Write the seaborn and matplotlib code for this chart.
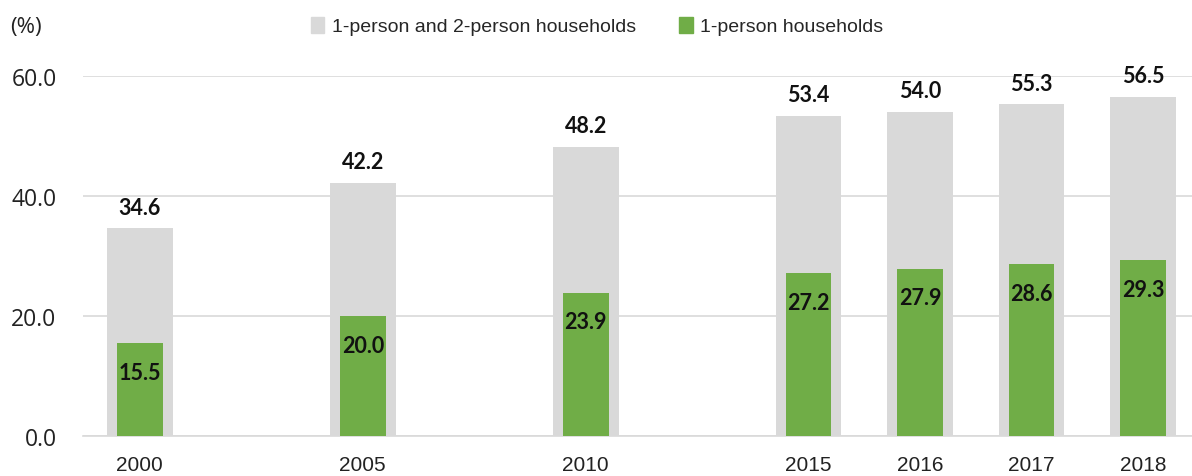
import matplotlib
matplotlib.use("Agg")
import matplotlib.pyplot as plt
from matplotlib.patches import Patch
import seaborn as sns

# data
years = ["2000", "2005", "2010", "2015", "2016", "2017", "2018"]
slots = [0, 2, 4, 6, 7, 8, 9]  # the chart leaves a gap between 5-year points
one_two_person = [34.6, 42.2, 48.2, 53.4, 54.0, 55.3, 56.5]
one_person = [15.5, 20.0, 23.9, 27.2, 27.9, 28.6, 29.3]

gray = "#D9D9D9"
green = "#70AD47"

sns.set_theme(style="white")
plt.rcParams["font.family"] = ["Liberation Sans", "DejaVu Sans"]

fig = plt.figure(figsize=(11.92, 4.77), dpi=100)
ax = fig.add_axes([83 / 1192, 40 / 477, (1192 - 83) / 1192, 360 / 477])

sns.barplot(x=slots, y=one_two_person, native_scale=True, width=0.59,
            color=gray, saturation=1, linewidth=0, ax=ax, zorder=2)
sns.barplot(x=slots, y=one_person, native_scale=True, width=0.41,
            color=green, saturation=1, linewidth=0, ax=ax, zorder=3)

ax.set_ylim(0, 60)
ax.set_xlim(-0.51, 9.44)
ax.set_yticks([0, 20, 40, 60])
ax.set_yticklabels([f"{v:.1f}" for v in [0, 20, 40, 60]],
                   fontsize=16.5, family=["Open Sans", "DejaVu Sans"], color="#222222")
ax.set_xticks(slots)
ax.set_xticklabels(years, fontsize=15, color="#222222")
ax.tick_params(axis="y", length=0, pad=19)
ax.tick_params(axis="x", length=0, pad=14)
ax.grid(axis="y", color=gray, linewidth=1.2, zorder=0)
ax.set_axisbelow(True)
for s in ["top", "right", "left"]:
    ax.spines[s].set_visible(False)
ax.spines["bottom"].set_color(gray)
ax.spines["bottom"].set_linewidth(1.2)
ax.set_xlabel("")
ax.set_ylabel("")

lab_font = ["Lato", "DejaVu Sans"]
for x, v in zip(slots, one_two_person):
    ax.text(x, v + 3.5, f"{v:.1f}", ha="center", va="center", fontsize=15.5,
            fontweight="bold", family=lab_font, color="#111111", clip_on=False, zorder=5)
for x, v in zip(slots, one_person):
    ax.text(x, v - 4.9, f"{v:.1f}", ha="center", va="center", fontsize=15.5,
            fontweight="bold", family=lab_font, color="#111111", zorder=5)

fig.text(10 / 1192, 1 - 27 / 477, "(%)", fontsize=16, va="center", ha="left",
         family=["Open Sans", "DejaVu Sans"], color="#222222")

handles = [Patch(color=gray, label="1-person and 2-person households"),
           Patch(color=green, label="1-person households")]
fig.legend(handles=handles, loc="center", bbox_to_anchor=(597 / 1192, 1 - 27 / 477),
           ncol=2, frameon=False, handlelength=0.7, handleheight=0.9,
           handletextpad=0.4, columnspacing=2.2,
           prop={"family": ["Liberation Sans Narrow", "Liberation Sans"], "size": 14})

fig.savefig("out.png", dpi=100)
